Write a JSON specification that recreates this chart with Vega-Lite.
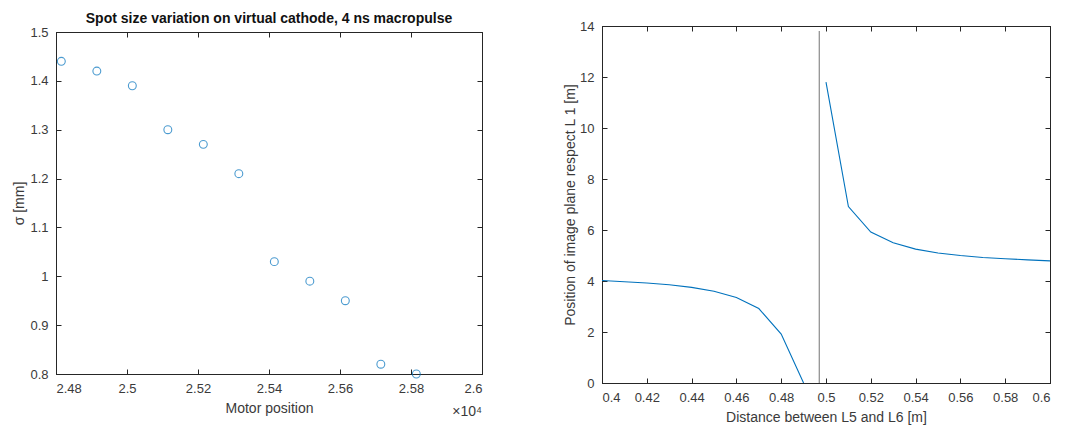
{
  "$schema": "https://vega.github.io/schema/vega-lite/v6.json",
  "background": "white",
  "padding": {"left": 12, "top": 11, "right": 14, "bottom": 0},
  "spacing": 80,
  "config": {
    "font": "Liberation Sans",
    "view": {"stroke": "#262626", "strokeWidth": 1},
    "axis": {
      "domainColor": "#262626",
      "tickColor": "#262626",
      "tickSize": -5,
      "labelColor": "#3a3a3a",
      "titleColor": "#3a3a3a",
      "labelFontSize": 13,
      "titleFontSize": 14,
      "titleFontWeight": "normal",
      "grid": false,
      "labelPadding": 13
    }
  },
  "datasets": {
    "spot": [
      {"motor": 24815, "sigma": 1.44},
      {"motor": 24915, "sigma": 1.42},
      {"motor": 25015, "sigma": 1.39},
      {"motor": 25115, "sigma": 1.30},
      {"motor": 25215, "sigma": 1.27},
      {"motor": 25315, "sigma": 1.21},
      {"motor": 25415, "sigma": 1.03},
      {"motor": 25515, "sigma": 0.99},
      {"motor": 25615, "sigma": 0.95},
      {"motor": 25715, "sigma": 0.82},
      {"motor": 25815, "sigma": 0.80}
    ],
    "image": [
      {"d": 0.40, "pos": 4.02, "branch": "a"},
      {"d": 0.41, "pos": 3.97, "branch": "a"},
      {"d": 0.42, "pos": 3.92, "branch": "a"},
      {"d": 0.43, "pos": 3.85, "branch": "a"},
      {"d": 0.44, "pos": 3.75, "branch": "a"},
      {"d": 0.45, "pos": 3.60, "branch": "a"},
      {"d": 0.46, "pos": 3.35, "branch": "a"},
      {"d": 0.47, "pos": 2.92, "branch": "a"},
      {"d": 0.48, "pos": 1.92, "branch": "a"},
      {"d": 0.49, "pos": 0.0, "branch": "a"},
      {"d": 0.50, "pos": 11.8, "branch": "b"},
      {"d": 0.51, "pos": 6.92, "branch": "b"},
      {"d": 0.52, "pos": 5.92, "branch": "b"},
      {"d": 0.53, "pos": 5.50, "branch": "b"},
      {"d": 0.54, "pos": 5.25, "branch": "b"},
      {"d": 0.55, "pos": 5.10, "branch": "b"},
      {"d": 0.56, "pos": 5.00, "branch": "b"},
      {"d": 0.57, "pos": 4.92, "branch": "b"},
      {"d": 0.58, "pos": 4.87, "branch": "b"},
      {"d": 0.59, "pos": 4.83, "branch": "b"},
      {"d": 0.60, "pos": 4.79, "branch": "b"}
    ],
    "vline": [
      {"d": 0.497, "y0": 0, "y1": 13.8}
    ]
  },
  "hconcat": [
    {
      "spacing": -16,
      "vconcat": [
        {
          "width": 1,
          "height": 1,
          "view": {"stroke": null},
          "mark": {"type": "rule", "opacity": 0},
          "encoding": {}
        },
        {
          "width": 426,
          "height": 342,
          "title": {"text": "Spot size variation on virtual cathode, 4 ns macropulse", "fontSize": 14, "fontWeight": "bold", "color": "#111111", "offset": 0},
          "resolve": {"axis": {"x": "independent", "y": "independent"}},
          "layer": [
            {
              "data": {"name": "spot"},
              "mark": {"type": "point", "shape": "circle", "filled": false, "color": "#0072BD", "size": 62, "strokeWidth": 1.1, "clip": false},
              "encoding": {
                "x": {"field": "motor", "type": "quantitative", "scale": {"domain": [24800, 26000], "nice": false, "zero": false},
                  "axis": {"orient": "bottom", "values": [24800, 25000, 25200, 25400, 25600, 25800, 26000], "labelExpr": "format(datum.value/10000, '.2~f')", "title": "Motor position", "titlePadding": 6}},
                "y": {"field": "sigma", "type": "quantitative", "scale": {"domain": [0.8, 1.5], "nice": false, "zero": false},
                  "axis": {"orient": "left", "values": [0.8, 0.9, 1.0, 1.1, 1.2, 1.3, 1.4, 1.5], "format": ".1~f", "title": "σ [mm]", "titlePadding": 3}}
              }
            },
            {
              "data": {"values": [{"mx": 26000, "my": 0.8, "t": "×10⁴"}]},
              "mark": {"type": "text", "align": "right", "baseline": "middle", "dy": 38, "fontSize": 14, "color": "#3a3a3a", "clip": false},
              "encoding": {
                "x": {"field": "mx", "type": "quantitative", "axis": {"orient": "top", "values": [24800, 25000, 25200, 25400, 25600, 25800, 26000], "labels": false, "domain": true, "title": null}},
                "y": {"field": "my", "type": "quantitative", "axis": {"orient": "right", "values": [0.8, 0.9, 1.0, 1.1, 1.2, 1.3, 1.4, 1.5], "labels": false, "domain": true, "title": null}},
                "text": {"field": "t"}
              }
            }
          ]
        }
      ]
    },
    {
      "width": 448,
      "height": 357,
      "resolve": {"axis": {"x": "independent", "y": "independent"}},
      "layer": [
        {
          "data": {"name": "image"},
          "mark": {"type": "line", "color": "#0072BD", "strokeWidth": 1.1, "clip": true},
          "encoding": {
            "x": {"field": "d", "type": "quantitative", "scale": {"domain": [0.4, 0.6], "nice": false, "zero": false},
              "axis": {"orient": "bottom", "values": [0.4, 0.42, 0.44, 0.46, 0.48, 0.5, 0.52, 0.54, 0.56, 0.58, 0.6], "format": ".2~f", "title": "Distance between L5 and L6 [m]", "titlePadding": 6}},
            "y": {"field": "pos", "type": "quantitative", "scale": {"domain": [0, 14], "nice": false, "zero": false},
              "axis": {"orient": "left", "values": [0, 2, 4, 6, 8, 10, 12, 14], "title": "Position of image plane respect L 1 [m]", "titlePadding": 2}},
            "detail": {"field": "branch"}
          }
        },
        {
          "data": {"name": "vline"},
          "mark": {"type": "rule", "color": "#8a8a8a", "strokeWidth": 1.2},
          "encoding": {
            "x": {"field": "d", "type": "quantitative", "axis": {"orient": "top", "values": [0.4, 0.42, 0.44, 0.46, 0.48, 0.5, 0.52, 0.54, 0.56, 0.58, 0.6], "labels": false, "domain": true, "title": null}},
            "y": {"field": "y0", "type": "quantitative", "axis": {"orient": "right", "values": [0, 2, 4, 6, 8, 10, 12, 14], "labels": false, "domain": true, "title": null}},
            "y2": {"field": "y1"}
          }
        }
      ]
    }
  ]
}
